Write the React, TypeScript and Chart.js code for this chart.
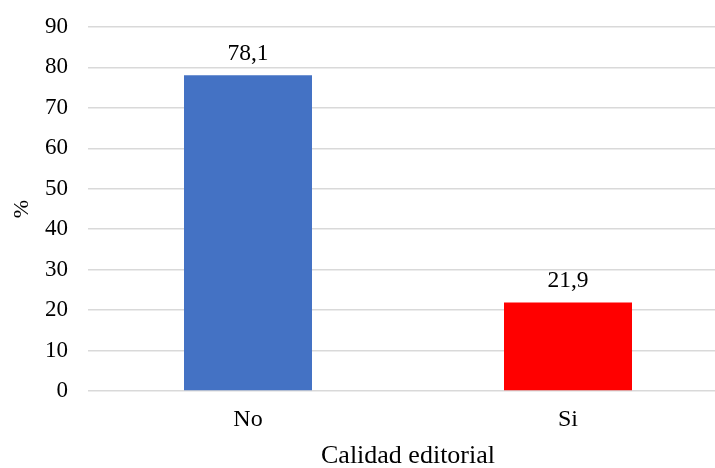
import React, { useEffect, useRef } from "react";
import { Chart, registerables } from "chart.js";

Chart.register(...registerables);

const categories = ["No", "Si"];
const values = [78.1, 21.9];
const barColors = ["#4472C4", "#FF0000"];
const yTicks = [0, 10, 20, 30, 40, 50, 60, 70, 80, 90];
const xTitle = "Calidad editorial";
const yTitle = "%";

const FONT = "'Liberation Serif', 'Times New Roman', serif";

const dataLabels = {
  id: "dataLabels",
  afterDatasetsDraw(chart: any) {
    const ctx = chart.ctx;
    ctx.save();
    ctx.font = `23.5px ${FONT}`;
    ctx.fillStyle = "#000";
    ctx.textAlign = "center";
    ctx.textBaseline = "alphabetic";
    chart.data.datasets.forEach((ds: any, di: number) => {
      const meta = chart.getDatasetMeta(di);
      meta.data.forEach((el: any, i: number) => {
        const v = ds.data[i];
        ctx.fillText(String(v).replace(".", ","), el.x, el.y - 15);
      });
    });
    ctx.restore();
  },
};

export default function App() {
  const ref = useRef<HTMLCanvasElement>(null);
  useEffect(() => {
    if (!ref.current) return;
    Chart.defaults.font.family = FONT;
    Chart.defaults.color = "#000";
    const chart = new Chart(ref.current, {
      type: "bar",
      data: {
        labels: categories,
        datasets: [
          {
            data: values,
            backgroundColor: barColors,
            borderWidth: 0,
            barPercentage: 0.4,
            categoryPercentage: 1,
          },
        ],
      },
      options: {
        animation: false,
        responsive: true,
        maintainAspectRatio: false,
        layout: { padding: { top: 27, left: 0, right: 0, bottom: 0 } },
        plugins: { legend: { display: false }, tooltip: { enabled: false } },
        scales: {
          x: {
            grid: { display: false, drawTicks: false },
            border: { display: false },
            ticks: { font: { size: 24, family: FONT }, padding: 14, color: "#000" },
            title: {
              display: true,
              text: xTitle,
              font: { size: 26, family: FONT, lineHeight: 1 },
              padding: { top: 0, bottom: -1 },
              color: "#000",
            },
            afterFit(scale: any) {
              scale.height = 77;
            },
          },
          y: {
            min: 0,
            max: 90,
            afterBuildTicks(scale: any) {
              scale.ticks = yTicks.map((v) => ({ value: v }));
            },
            grid: { color: "#d9d9d9", lineWidth: 1.5, drawTicks: false },
            border: { display: false },
            ticks: { font: { size: 23, family: FONT }, padding: 20, color: "#000" },
            title: {
              display: true,
              text: yTitle,
              font: { size: 22, family: FONT, lineHeight: 1 },
              padding: { top: 11, bottom: 0 },
              color: "#000",
            },
            afterFit(scale: any) {
              scale.width = 88;
              scale.paddingTop = 0;
              scale.paddingBottom = 0;
            },
          },
        },
      },
      plugins: [dataLabels],
    });
    return () => chart.destroy();
  }, []);
  return (
    <div style={{ position: "fixed", left: 0, top: 0, width: 728, height: 468, background: "#fff" }}>
      <canvas ref={ref} />
    </div>
  );
}
